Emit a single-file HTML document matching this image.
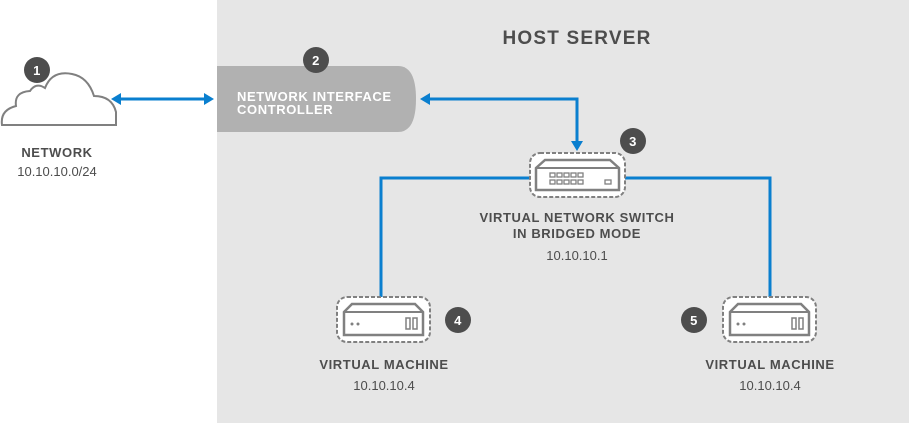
<!DOCTYPE html>
<html><head><style>
html,body{margin:0;padding:0;background:#fff;}
svg{display:block;}
text{font-family:"Liberation Sans",sans-serif;fill:#4d4d4d;}
.b{font-weight:bold;letter-spacing:0.6px;}
</style></head><body>
<svg width="909" height="423" viewBox="0 0 909 423" xmlns="http://www.w3.org/2000/svg">
<rect x="217" y="0" width="692" height="423" fill="#e6e6e6"/>
<text x="577" y="44" class="b" font-size="19" text-anchor="middle" style="letter-spacing:1.2px">HOST SERVER</text>
<!-- NIC -->
<path d="M217,66 H398 Q416,66 416,99 Q416,132 398,132 H217 Z" fill="#b1b1b1"/>
<text x="237" y="101" class="b" font-size="13" style="fill:#fff">NETWORK INTERFACE</text>
<text x="237" y="114" class="b" font-size="13" style="fill:#fff">CONTROLLER</text>
<!-- cloud -->
<path d="M2,125 Q0,110 16,106 Q14,92 30,91 Q36,82 45,88 Q52,70 72,74 Q88,77 94,96 Q112,96 116,112 L116,125 Z" fill="#fff" stroke="#808080" stroke-width="2"/>
<text x="57" y="157" class="b" font-size="13" text-anchor="middle">NETWORK</text>
<text x="57" y="176" font-size="13" text-anchor="middle">10.10.10.0/24</text>
<!-- arrows -->
<line x1="120" y1="99" x2="205" y2="99" stroke="#0a7fcf" stroke-width="3"/>
<path d="M111,99 L121,93 L121,105 Z" fill="#0a7fcf"/>
<path d="M214,99 L204,93 L204,105 Z" fill="#0a7fcf"/>
<path d="M429,99 H577 V142" fill="none" stroke="#0a7fcf" stroke-width="3"/>
<path d="M420,99 L430,93 L430,105 Z" fill="#0a7fcf"/>
<path d="M577,151 L571,141 L583,141 Z" fill="#0a7fcf"/>
<path d="M530,178 H381 V297" fill="none" stroke="#0a7fcf" stroke-width="3"/>
<path d="M625,178 H770 V297" fill="none" stroke="#0a7fcf" stroke-width="3"/>
<!-- switch -->
<rect x="530" y="153" width="95" height="44" rx="10" fill="#fff" stroke="#808080" stroke-width="2" stroke-dasharray="4,2"/>
<path d="M536,190 V168 L545,160 H610 L619,168 V190 Z" fill="#fff" stroke="#808080" stroke-width="2.5"/>
<line x1="536" y1="168" x2="619" y2="168" stroke="#808080" stroke-width="2"/>
<g fill="none" stroke="#808080" stroke-width="1.3">
<rect x="550" y="173" width="5" height="4"/><rect x="557" y="173" width="5" height="4"/><rect x="564" y="173" width="5" height="4"/><rect x="571" y="173" width="5" height="4"/><rect x="578" y="173" width="5" height="4"/>
<rect x="550" y="180" width="5" height="4"/><rect x="557" y="180" width="5" height="4"/><rect x="564" y="180" width="5" height="4"/><rect x="571" y="180" width="5" height="4"/><rect x="578" y="180" width="5" height="4"/>
<rect x="605" y="180" width="6" height="4"/>
</g>
<circle cx="633" cy="141" r="13" fill="#4d4d4d"/>
<text x="633" y="146" class="b" font-size="13" text-anchor="middle" style="fill:#fff">3</text>
<text x="577" y="222" class="b" font-size="13" text-anchor="middle">VIRTUAL NETWORK SWITCH</text>
<text x="577" y="238" class="b" font-size="13" text-anchor="middle">IN BRIDGED MODE</text>
<text x="577" y="260" font-size="13" text-anchor="middle">10.10.10.1</text>
<!-- VM1 -->
<g>
<rect x="337" y="297" width="93" height="45" rx="10" fill="#fff" stroke="#808080" stroke-width="2" stroke-dasharray="4,2"/>
<path d="M344,335 V312 L352,304 H415 L423,312 V335 Z" fill="#fff" stroke="#808080" stroke-width="2.5"/>
<line x1="344" y1="312" x2="423" y2="312" stroke="#808080" stroke-width="2"/>
<circle cx="352" cy="324" r="1.5" fill="#808080"/><circle cx="358" cy="324" r="1.5" fill="#808080"/>
<rect x="406" y="318" width="4" height="11" fill="none" stroke="#808080" stroke-width="1.5"/>
<rect x="413" y="318" width="4" height="11" fill="none" stroke="#808080" stroke-width="1.5"/>
</g>
<circle cx="458" cy="320" r="13" fill="#4d4d4d"/>
<text x="458" y="325" class="b" font-size="13" text-anchor="middle" style="fill:#fff">4</text>
<text x="384" y="369" class="b" font-size="13" text-anchor="middle">VIRTUAL MACHINE</text>
<text x="384" y="390" font-size="13" text-anchor="middle">10.10.10.4</text>
<!-- VM2 -->
<g transform="translate(386,0)">
<rect x="337" y="297" width="93" height="45" rx="10" fill="#fff" stroke="#808080" stroke-width="2" stroke-dasharray="4,2"/>
<path d="M344,335 V312 L352,304 H415 L423,312 V335 Z" fill="#fff" stroke="#808080" stroke-width="2.5"/>
<line x1="344" y1="312" x2="423" y2="312" stroke="#808080" stroke-width="2"/>
<circle cx="352" cy="324" r="1.5" fill="#808080"/><circle cx="358" cy="324" r="1.5" fill="#808080"/>
<rect x="406" y="318" width="4" height="11" fill="none" stroke="#808080" stroke-width="1.5"/>
<rect x="413" y="318" width="4" height="11" fill="none" stroke="#808080" stroke-width="1.5"/>
</g>
<circle cx="694" cy="320" r="13" fill="#4d4d4d"/>
<text x="694" y="325" class="b" font-size="13" text-anchor="middle" style="fill:#fff">5</text>
<text x="770" y="369" class="b" font-size="13" text-anchor="middle">VIRTUAL MACHINE</text>
<text x="770" y="390" font-size="13" text-anchor="middle">10.10.10.4</text>
<!-- badges 1,2 -->
<circle cx="37" cy="70" r="13" fill="#4d4d4d"/>
<text x="37" y="75" class="b" font-size="13" text-anchor="middle" style="fill:#fff">1</text>
<circle cx="316" cy="60" r="13" fill="#4d4d4d"/>
<text x="316" y="65" class="b" font-size="13" text-anchor="middle" style="fill:#fff">2</text>
</svg>
</body></html>
